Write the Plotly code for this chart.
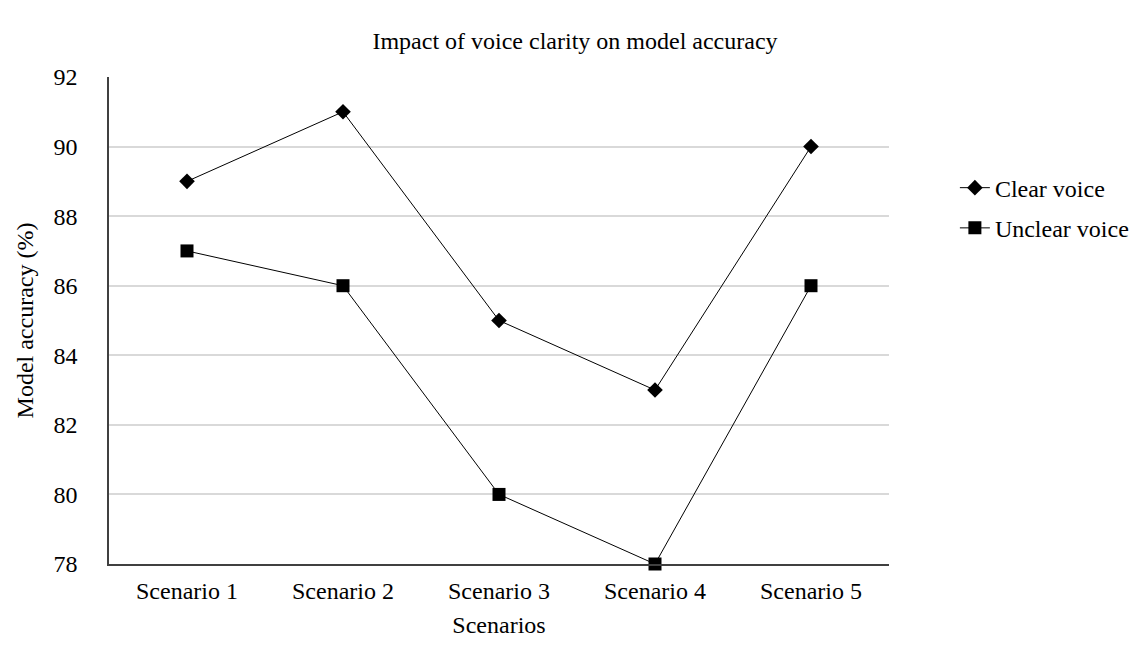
import plotly.graph_objects as go

categories = ["Scenario 1", "Scenario 2", "Scenario 3", "Scenario 4", "Scenario 5"]
clear_voice = [89, 91, 85, 83, 90]
unclear_voice = [87, 86, 80, 78, 86]
y_ticks = [78, 80, 82, 84, 86, 88, 90, 92]

font_family = "Liberation Serif, Times New Roman, serif"

fig = go.Figure()
fig.add_trace(go.Scatter(
    x=categories, y=clear_voice, name="Clear voice", mode="lines+markers",
    line=dict(color="black", width=1), legendgroup="a",
    marker=dict(symbol="diamond", size=12, color="black"),
    cliponaxis=False,
))
fig.add_trace(go.Scatter(
    x=categories, y=unclear_voice, name="Unclear voice", mode="lines+markers",
    line=dict(color="black", width=1), legendgroup="b",
    marker=dict(symbol="square", size=13, color="black"),
    cliponaxis=False,
))

fig.update_layout(
    width=1134, height=653,
    paper_bgcolor="white", plot_bgcolor="white",
    font=dict(family=font_family, size=24, color="black"),
    title=dict(text="Impact of voice clarity on model accuracy", x=0.5, xanchor="center",
               y=0.9495, yanchor="middle", font=dict(size=24, family=font_family, color="black")),
    margin=dict(l=101, r=253, t=69, b=97),
    legend=dict(x=0.835, y=0.7587, xref="container", yref="container",
                xanchor="left", yanchor="top",
                font=dict(size=24), tracegroupgap=6),
    showlegend=True,
)
fig.update_xaxes(
    title=dict(text="Scenarios", font=dict(size=24), standoff=14),
    range=[-0.5, 4.5], showline=True, linecolor="#404040", linewidth=1.5,
    showgrid=False, ticks="", tickfont=dict(size=24), ticklabelstandoff=4,
    automargin=False,
)
fig.update_yaxes(
    title=dict(text="Model accuracy (%)", font=dict(size=24), standoff=13),
    range=[78, 92], tickvals=y_ticks, showline=True, linecolor="#404040", linewidth=1.5,
    showgrid=True, gridcolor="#d9d9d9", gridwidth=1.5, ticks="", tickfont=dict(size=24),
    zeroline=False, ticklabelstandoff=25, automargin=False,
)

fig.write_html("out.html")
